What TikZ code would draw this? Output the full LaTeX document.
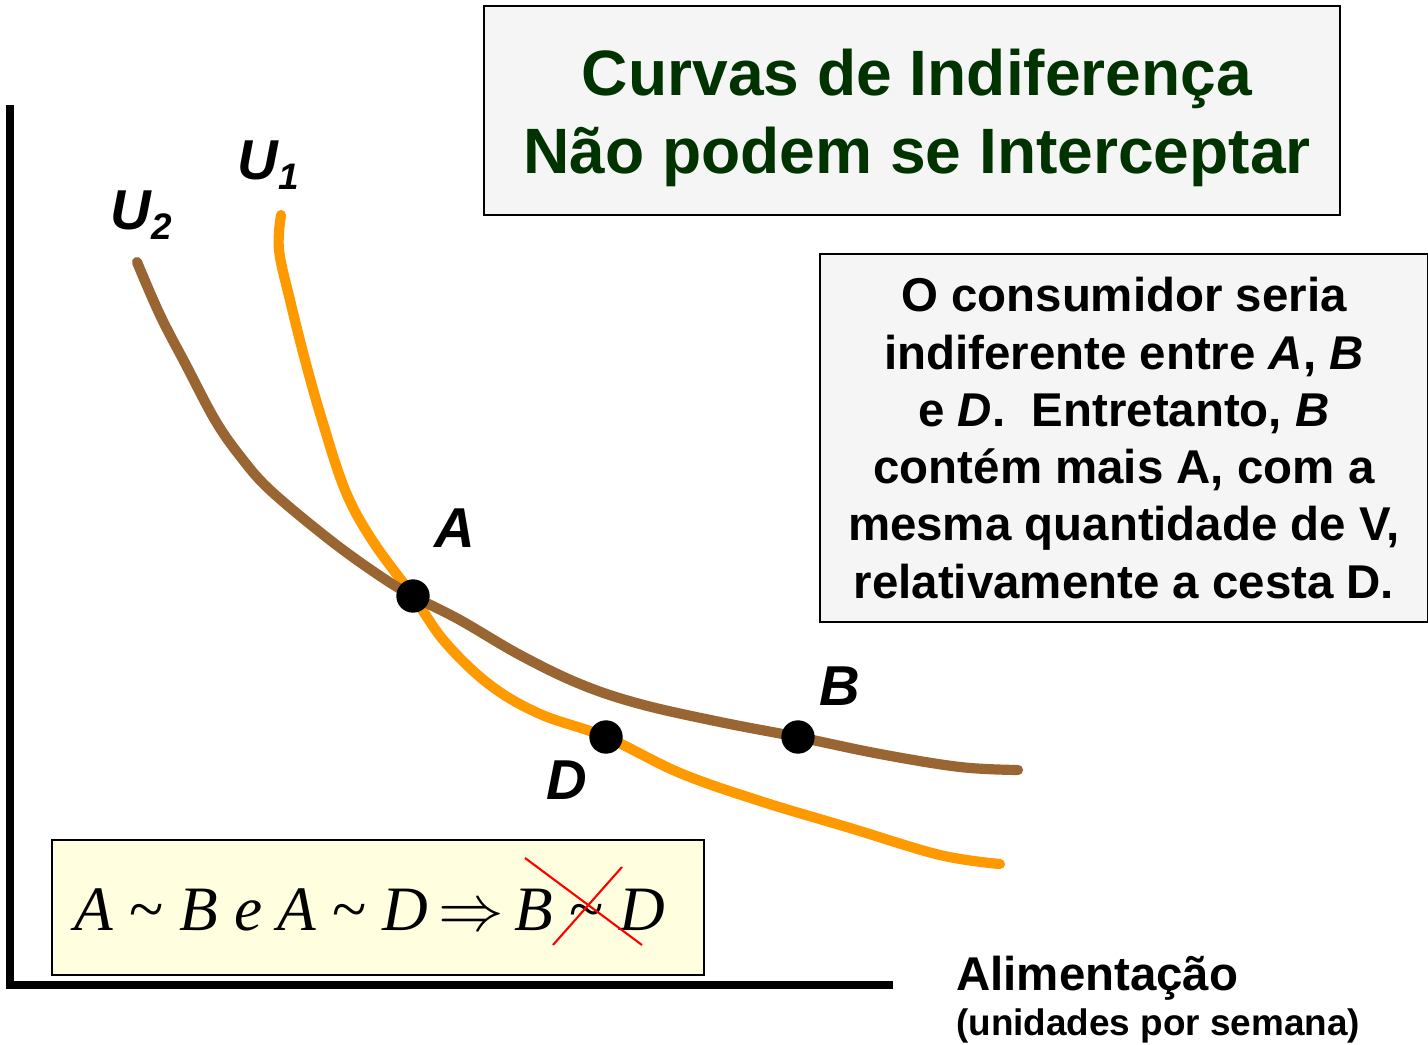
\documentclass[tikz,border=0pt]{standalone}
\usepackage{fontspec}
\usepackage{graphicx}
\setmainfont{Liberation Sans}
\newfontfamily\formfont{Liberation Serif}
\usetikzlibrary{positioning}

\definecolor{titlegreen}{RGB}{0,51,0}
\definecolor{uone}{RGB}{255,153,0}
\definecolor{utwo}{RGB}{153,102,51}
\definecolor{boxgray}{RGB}{245,245,245}
\definecolor{boxyellow}{RGB}{255,255,224}

\newcommand{\usub}[1]{\raisebox{-0.35ex}{\fontsize{21}{24}\selectfont #1}}

\tikzset{
  infobox/.style={draw=black, line width=1.2pt, fill=boxgray, align=center, inner sep=0pt},
  cesta/.style={circle, fill=black, minimum size=19pt, inner sep=0pt},
  ptlabel/.style={font=\fontsize{32}{36}\selectfont\bfseries\itshape},
  curva/.style={line width=5.8pt, line cap=round, line join=round}
}

\begin{document}
\begin{tikzpicture}[x=0.02cm, y=-0.02cm]
  \useasboundingbox (0,0) rectangle (1428,1045);

  % eixos
  \coordinate (origem) at (10,985);
  \coordinate (topo) at (10,105);
  \coordinate (fim) at (893,985);
  \draw[line width=4pt] (topo) -- (origem) -- (fim);

  % cestas
  \coordinate (A) at (413,596);
  \coordinate (D) at (606,737);
  \coordinate (B) at (798,737);

  % curvas de indiferenca
  \draw[curva, uone] plot[smooth, tension=0.6] coordinates {(281,215) (279,250) (290,300) (305,360) (322,420) (345,490) (372,540) (A) (445,642) (490,685) (540,714) (D) (680,773) (760,801) (850,828) (940,855) (1000,864)};
  \draw[curva, utwo] plot[smooth, tension=0.6] coordinates {(137,262) (160,315) (186,365) (215,420) (240,456) (270,490) (330,540) (380,576) (A) (460,620) (520,655) (580,684) (640,704) (720,722) (B) (880,754) (960,767) (1018,770)};

  \node[cesta] (ptA) at (A) {};
  \node[cesta] (ptD) at (D) {};
  \node[cesta] (ptB) at (B) {};
  \node[ptlabel] (labA) at (455,528) {A};
  \node[ptlabel] (labB) at (840,686) {B};
  \node[ptlabel] (labD) at (567,780) {D};
  \node[ptlabel] (labU1) at (268,165) {U\usub{1}};
  \node[ptlabel] (labU2) at (141,215) {U\usub{2}};

  % titulo
  \node[infobox, minimum width=17.12cm, minimum height=4.18cm] (titulo) at (912,110.5) {};
  \node[text=titlegreen, font=\fontsize{36.5}{44}\selectfont\bfseries, align=center] (tittext) at (917,118)
        {Curvas de Indiferença\\Não podem se Interceptar};

  % explicacao
  \node[infobox, minimum width=12.16cm, minimum height=7.36cm,
        font=\fontsize{27}{32.6}\selectfont\bfseries] (texto) at (1124,438)
        {O consumidor seria\\indiferente entre \textit{A}, \textit{B}\\e \textit{D}.\ \ Entretanto, \textit{B}\\contém mais A, com a\\mesma quantidade de V,\\relativamente a cesta D.};

  % formula
  \node[draw=black, line width=1.2pt, fill=boxyellow, minimum width=13.04cm, minimum height=2.7cm] (formula) at (378,907.5) {};
  \node[font=\fontsize{36}{40}\formfont\selectfont] (formtext) at (370,910)
        {\textit{A} \char`\~\ \textit{B} \textit{e} \textit{A} \char`\~\ \textit{D}\,\scalebox{1.5}{$\Rightarrow$}\,\textit{B} \char`\~\ \textit{D}};
  \coordinate (x1) at (525,858);
  \coordinate (x2) at (642,945);
  \coordinate (x3) at (622,867);
  \coordinate (x4) at (553,945);
  \draw[red, line width=1.2pt] (x1) -- (x2);
  \draw[red, line width=1.2pt] (x3) -- (x4);

  % rotulo do eixo
  \node[anchor=base west, font=\fontsize{27}{30}\selectfont\bfseries] (alim) at (950,990) {Alimentação};
  \node[anchor=base west, font=\fontsize{21}{24}\selectfont\bfseries] (unid) at (950,1035) {(unidades por semana)};
\end{tikzpicture}
\end{document}
